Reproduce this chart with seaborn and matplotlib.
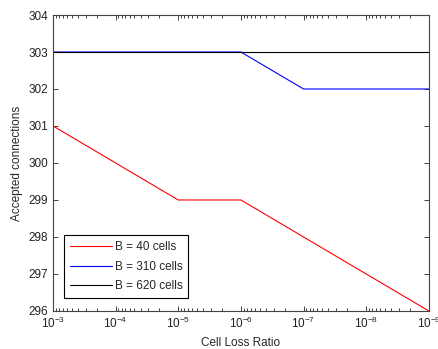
import matplotlib
matplotlib.use('Agg')
import matplotlib.pyplot as plt
import pandas as pd
import seaborn as sns

clr = [1e-3, 1e-4, 1e-5, 1e-6, 1e-7, 1e-8, 1e-9]
b40 = [301, 300, 299, 299, 298, 297, 296]
b310 = [303, 303, 303, 303, 302, 302, 302]
b620 = [303, 303, 303, 303, 303, 303, 303]
labels = ['B = 40 cells', 'B = 310 cells', 'B = 620 cells']
colors = ['#ff0000', '#0000ff', '#000000']

sns.set_style('ticks')
plt.rcParams['font.family'] = ['Liberation Sans', 'DejaVu Sans']

df = pd.DataFrame({'clr': clr * 3,
                   'conn': b40 + b310 + b620,
                   'series': [labels[0]] * 7 + [labels[1]] * 7 + [labels[2]] * 7})

fig = plt.figure(figsize=(4.38, 3.49), dpi=100)
ax = fig.add_axes([0.121, 0.109, 0.858, 0.848])
sns.lineplot(data=df, x='clr', y='conn', hue='series', palette=colors,
             hue_order=labels, linewidth=0.8, ax=ax)
ax.set_xscale('log')
ax.set_xlim(1e-3, 1e-9)
ax.set_ylim(296, 304)
ax.set_xticks(clr)
ax.set_yticks(range(296, 305))
ax.set_xlabel('Cell Loss Ratio', fontsize=8.5)
ax.set_ylabel('Accepted connections', fontsize=8.5)
ax.tick_params(which='both', direction='in', top=True, right=True, labelsize=8.5,
               width=0.6, colors='#222222')
ax.tick_params(which='major', length=3.5)
ax.tick_params(which='minor', length=2)
for s in ax.spines.values():
    s.set_linewidth(0.8)
    s.set_color('#444444')
leg = ax.legend(loc='lower left', bbox_to_anchor=(0.029, 0.044), fontsize=8.5,
                fancybox=False, framealpha=1, edgecolor='black',
                handlelength=3.6, handletextpad=0.2, borderaxespad=0,
                labelspacing=0.62, borderpad=0.5)
leg.get_frame().set_linewidth(0.8)
fig.savefig('out.png', dpi=100)
